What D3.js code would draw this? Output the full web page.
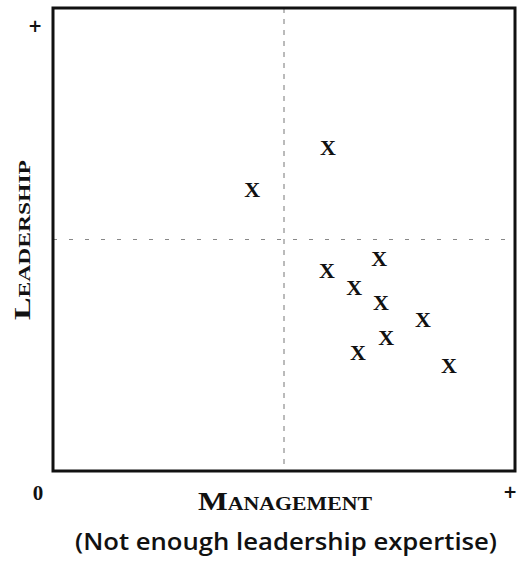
<!DOCTYPE html>
<html>
<head>
<meta charset="utf-8">
<script src="https://cdn.jsdelivr.net/npm/d3@7"></script>
<style>
  body { margin: 0; background: #fff; }
  svg { display: block; }
</style>
</head>
<body>
<div class="chart"></div>
<script>
const FRAME_WIDTH = 518;
const FRAME_HEIGHT = 563;
const MARGINS = {left: 53, right: 3, top: 8, bottom: 92};

// management (x) and leadership (y) scores, 0..10 scale
const MANAGEMENT = [5.95, 4.31, 5.93, 7.06, 6.52, 7.10, 8.01, 7.21, 6.60, 8.57];
const LEADERSHIP = [6.98, 6.07, 4.34, 4.60, 3.97, 3.63, 3.28, 2.89, 2.55, 2.27];
const DOMAIN = [0, 10];
const MIDPOINT = 5;
const X_TITLE = "Management";
const Y_TITLE = "Leadership";
const SUBTITLE = "(Not enough leadership expertise)";

const PLOT_WIDTH = FRAME_WIDTH - MARGINS.left - MARGINS.right;
const PLOT_HEIGHT = FRAME_HEIGHT - MARGINS.top - MARGINS.bottom;

const FRAME = d3.select(".chart")
                .append("svg")
                .attr("width", FRAME_WIDTH)
                .attr("height", FRAME_HEIGHT);

const X_SCALE = d3.scaleLinear().domain(DOMAIN).range([MARGINS.left, MARGINS.left + PLOT_WIDTH]);
const Y_SCALE = d3.scaleLinear().domain(DOMAIN).range([MARGINS.top + PLOT_HEIGHT, MARGINS.top]);

// quadrant divider lines
FRAME.append("line")
    .attr("x1", X_SCALE(MIDPOINT)).attr("x2", X_SCALE(MIDPOINT))
    .attr("y1", Y_SCALE(DOMAIN[1])).attr("y2", Y_SCALE(DOMAIN[0]))
    .attr("stroke", "#777").attr("stroke-width", 1)
    .attr("stroke-dasharray", "5,6");

FRAME.append("line")
    .attr("x1", X_SCALE(DOMAIN[0])).attr("x2", X_SCALE(DOMAIN[1]))
    .attr("y1", Y_SCALE(MIDPOINT)).attr("y2", Y_SCALE(MIDPOINT))
    .attr("stroke", "#888").attr("stroke-width", 1)
    .attr("stroke-dasharray", "4,12");

// the frame
FRAME.append("rect")
    .attr("x", X_SCALE(DOMAIN[0]))
    .attr("y", Y_SCALE(DOMAIN[1]))
    .attr("width", X_SCALE(DOMAIN[1]) - X_SCALE(DOMAIN[0]))
    .attr("height", Y_SCALE(DOMAIN[0]) - Y_SCALE(DOMAIN[1]))
    .attr("fill", "none")
    .attr("stroke", "#111")
    .attr("stroke-width", 3);

// X markers
FRAME.selectAll(".pt")
    .data(MANAGEMENT)
    .enter()
    .append("text")
        .attr("class", "pt")
        .attr("x", (d) => X_SCALE(d))
        .attr("y", (d, i) => Y_SCALE(LEADERSHIP[i]) + 7.5)
        .attr("text-anchor", "middle")
        .attr("font-family", "Liberation Serif, serif")
        .attr("font-weight", "bold")
        .attr("font-size", 22)
        .attr("fill", "#111")
        .text("X");

// axis end labels
FRAME.append("text")
    .attr("x", 35).attr("y", 32)
    .attr("text-anchor", "middle")
    .attr("font-family", "DejaVu Sans, sans-serif").attr("font-weight", "bold")
    .attr("font-size", 17).attr("fill", "#111")
    .text("+");

FRAME.append("text")
    .attr("x", 38).attr("y", 500)
    .attr("text-anchor", "middle")
    .attr("font-family", "Liberation Serif, serif").attr("font-weight", "bold")
    .attr("font-size", 21).attr("fill", "#111")
    .text("0");

FRAME.append("text")
    .attr("x", 510).attr("y", 498)
    .attr("text-anchor", "middle")
    .attr("font-family", "DejaVu Sans, sans-serif").attr("font-weight", "bold")
    .attr("font-size", 17).attr("fill", "#111")
    .text("+");

// titles
FRAME.append("text")
    .attr("x", 285).attr("y", 510)
    .attr("text-anchor", "middle")
    .attr("font-family", "Liberation Serif, serif").attr("font-weight", "bold")
    .attr("font-variant", "small-caps")
    .attr("font-size", 26).attr("fill", "#111")
    .attr("textLength", 174).attr("lengthAdjust", "spacingAndGlyphs")
    .text(X_TITLE);

FRAME.append("text")
    .attr("x", 286).attr("y", 550)
    .attr("text-anchor", "middle")
    .attr("font-family", "Open Sans, sans-serif").attr("font-weight", 600)
    .attr("font-size", 23).attr("fill", "#111")
    .attr("textLength", 422).attr("lengthAdjust", "spacingAndGlyphs")
    .text(SUBTITLE);

FRAME.append("text")
    .attr("transform", "translate(30,240) rotate(-90)")
    .attr("text-anchor", "middle")
    .attr("font-family", "Liberation Serif, serif").attr("font-weight", "bold")
    .attr("font-variant", "small-caps")
    .attr("font-size", 23).attr("fill", "#111")
    .attr("textLength", 160).attr("lengthAdjust", "spacingAndGlyphs")
    .text(Y_TITLE);
</script>
</body>
</html>
